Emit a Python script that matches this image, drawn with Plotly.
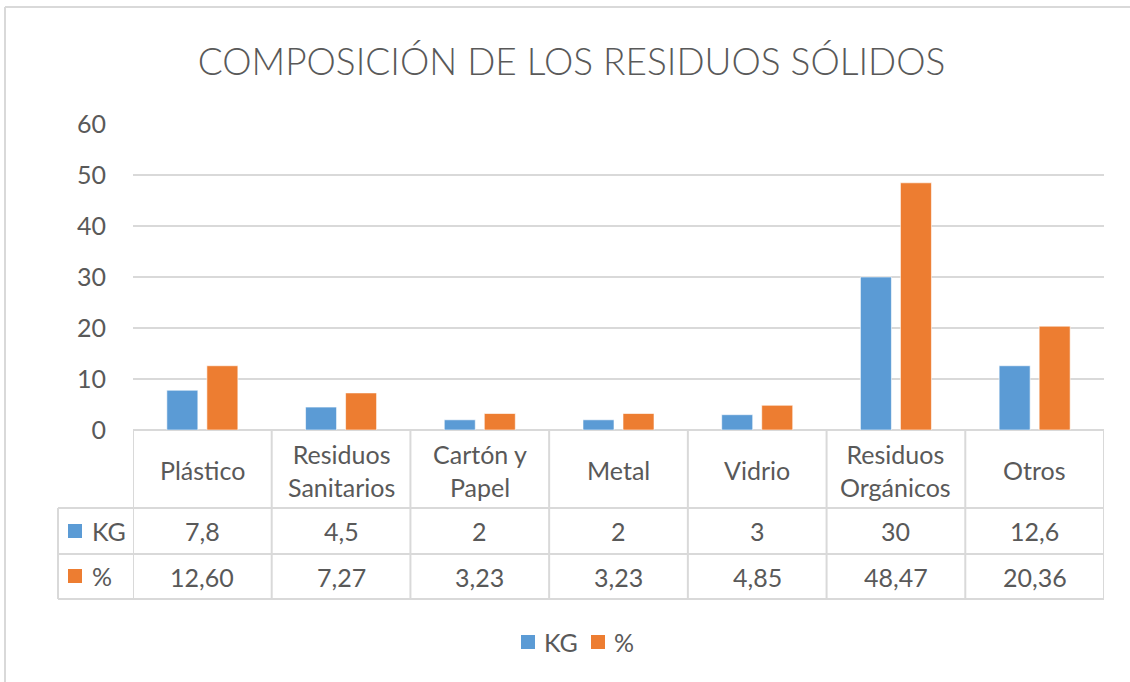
import plotly.graph_objects as go

categories = ["Plástico", "Residuos<br>Sanitarios", "Cartón y<br>Papel", "Metal", "Vidrio", "Residuos<br>Orgánicos", "Otros"]
kg_values = [7.8, 4.5, 2, 2, 3, 30, 12.6]
pct_values = [12.60, 7.27, 3.23, 3.23, 4.85, 48.47, 20.36]
series_names = ["KG", "%"]
series_colors = ["#5B9BD5", "#ED7D31"]
y_ticks = [0, 10, 20, 30, 40, 50, 60]
title_text = "COMPOSICIÓN DE LOS RESIDUOS SÓLIDOS"

W, H = 1130, 682
L, R, T, B = 133, 1104, 124, 430
FONT = "Lato"
TXT = "#595959"
GRID = "#D9D9D9"
FS = 25


def px(x):
    return (x - L) / (R - L)


def py(y):
    return (B - y) / (B - T)


def fmt_kg(v):
    return ("%g" % v).replace(".", ",")


def fmt_pct(v):
    return ("%.2f" % v).replace(".", ",")


fig = go.Figure()
xs = list(range(len(categories)))
for name, color, vals in zip(series_names, series_colors, [kg_values, pct_values]):
    fig.add_trace(go.Bar(x=xs, y=vals, name=name, marker_color=color,
                         marker_line=dict(color="white", width=0.6)))

shapes = []
annotations = []
n = len(categories)

# outer chart frame (top and left edges visible)
shapes.append(dict(type="line", xref="paper", yref="paper", x0=px(5), x1=px(W), y0=py(7), y1=py(7),
                   line=dict(color=GRID, width=2)))
shapes.append(dict(type="line", xref="paper", yref="paper", x0=px(5), x1=px(5), y0=py(7), y1=py(H),
                   line=dict(color=GRID, width=2)))

# table rows
for yy in [508, 554, 599]:
    shapes.append(dict(type="line", xref="paper", yref="paper", x0=px(58), x1=1, y0=py(yy), y1=py(yy),
                       line=dict(color=GRID, width=2)))
shapes.append(dict(type="line", xref="paper", yref="paper", x0=px(58), x1=px(58), y0=py(508), y1=py(599),
                   line=dict(color=GRID, width=2)))
for i in range(n + 1):
    shapes.append(dict(type="line", xref="x", yref="paper", x0=i - 0.5, x1=i - 0.5, y0=py(431), y1=py(599),
                       line=dict(color=GRID, width=2)))

for i, c in enumerate(categories):
    annotations.append(dict(x=i, y=py(470), xref="x", yref="paper", text=c, showarrow=False,
                            font=dict(family=FONT, size=FS, color=TXT), align="center",
                            xanchor="center", yanchor="middle"))
    annotations.append(dict(x=i, y=py(531), xref="x", yref="paper", text=fmt_kg(kg_values[i]), showarrow=False,
                            font=dict(family=FONT, size=FS, color=TXT), xanchor="center", yanchor="middle"))
    annotations.append(dict(x=i, y=py(577), xref="x", yref="paper", text=fmt_pct(pct_values[i]), showarrow=False,
                            font=dict(family=FONT, size=FS, color=TXT), xanchor="center", yanchor="middle"))

# row headers with legend keys
for name, color, yy in zip(series_names, series_colors, [531, 576]):
    shapes.append(dict(type="rect", xref="paper", yref="paper", x0=px(68), x1=px(82), y0=py(yy + 7), y1=py(yy - 7),
                       line=dict(width=0), fillcolor=color))
    annotations.append(dict(x=px(90), y=py(yy), xref="paper", yref="paper", text=name, showarrow=False,
                            font=dict(family=FONT, size=FS, color=TXT), xanchor="left", yanchor="middle"))

# bottom legend
for name, color, x0 in zip(series_names, series_colors, [521, 591]):
    shapes.append(dict(type="rect", xref="paper", yref="paper", x0=px(x0), x1=px(x0 + 14), y0=py(649), y1=py(635),
                       line=dict(width=0), fillcolor=color))
    annotations.append(dict(x=px(x0 + 21), y=py(642), xref="paper", yref="paper", text=name, showarrow=False,
                            font=dict(family=FONT, size=FS, color=TXT), xanchor="left", yanchor="middle"))

fig.update_layout(
    width=W, height=H,
    margin=dict(l=L, r=W - R, t=T, b=H - B, pad=0),
    paper_bgcolor="white", plot_bgcolor="white",
    title=dict(text=title_text, x=(195 + 948) / 2 / W, xanchor="center", y=1 - 62 / H, yanchor="middle",
               font=dict(family=FONT, size=37, color=TXT, weight=300)),
    barmode="group", bargap=0.423, bargroupgap=0.225,
    xaxis=dict(range=[-0.5, n - 0.5], showticklabels=False, showgrid=False, zeroline=False,
               showline=False, ticks="", fixedrange=True),
    yaxis=dict(range=[0, 60], tickvals=y_ticks, showgrid=True, gridcolor=GRID, gridwidth=2,
               zeroline=True, zerolinecolor=GRID, zerolinewidth=2, showline=False, ticks="",
               tickfont=dict(family=FONT, size=FS, color=TXT), ticklabelstandoff=26),
    showlegend=False,
    shapes=shapes, annotations=annotations,
)

fig.write_html("out.html", config={"displayModeBar": False},
               post_script="document.body.style.margin='0px';document.body.style.overflow='hidden';")
